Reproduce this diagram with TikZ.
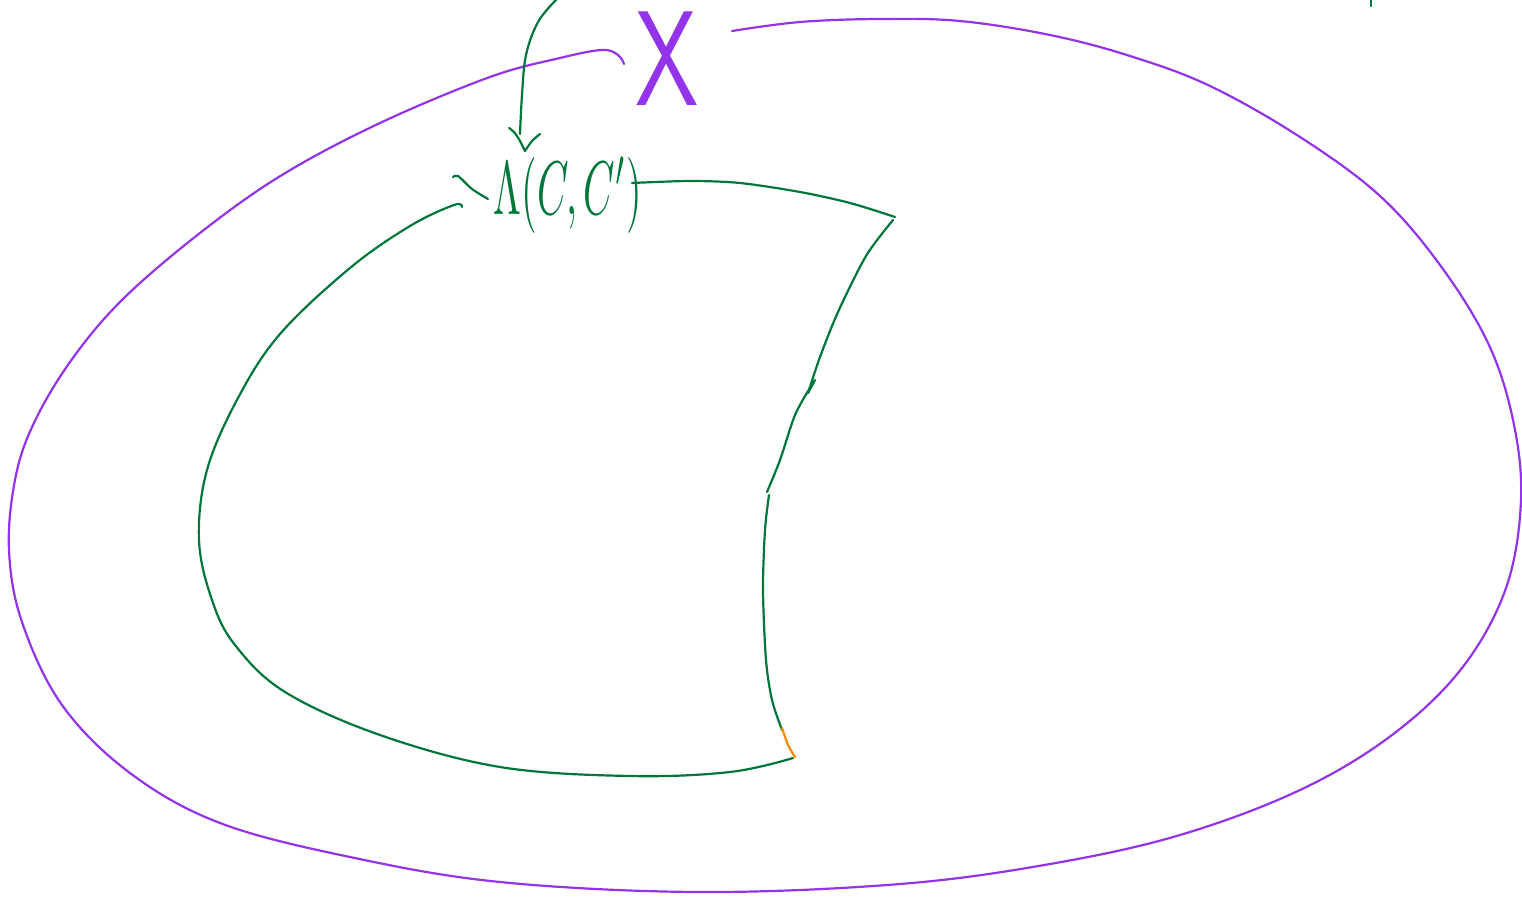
\documentclass[tikz,border=0pt]{standalone}
\usepackage{fontspec}
\usetikzlibrary{calc}
\definecolor{pur}{HTML}{9333EA}
\definecolor{grn}{HTML}{00773A}
\definecolor{org}{HTML}{F08A00}
\tikzset{
  pstroke/.style={draw=pur,line width=2.2pt,line cap=round,line join=round},
  gstroke/.style={draw=grn,line width=2.2pt,line cap=round,line join=round},
  ostroke/.style={draw=org,line width=2.2pt,line cap=round},
}
\begin{document}
\begin{tikzpicture}[x=1pt,y=-1pt]
\useasboundingbox (0,0) rectangle (1522,899);
% outer purple loop
\draw[pstroke] plot[smooth,tension=0.6] coordinates {(732,31) (800,22) (880,19) (960,21) (1050,35) (1130,56) (1210,86) (1300,137) (1380,196) (1440,265) (1488,343) (1513,420) (1521,500) (1506,588) (1462,668) (1392,735) (1300,790) (1180,835) (1050,864) (900,884) (700,892) (500,882) (350,857) (220,823) (130,773) (62,705) (22,622) (9,550) (15,480) (33,425) (70,362) (122,300) (200,233) (282,175) (380,123) (490,77) (560,58) (602,50) (618,55) (624,64)};
% X label
\node[text=pur,inner sep=0pt] (X) at (667,59) {\scalebox{9.5}[13.5]{\sffamily X}};
% inner green loop
\draw[gstroke] plot[smooth,tension=0.5] coordinates {(632,183) (690,181) (740,183) (800,192) (850,203) (895,217)};
\draw[gstroke] plot[smooth,tension=0.5] coordinates {(893,220) (866,256) (838,312) (820,357) (808,393)};
\draw[gstroke] (808,393) -- (815,380);
\draw[gstroke] plot[smooth,tension=0.5] coordinates {(810,388) (795,415) (780,460) (767,492)};
\draw[gstroke] plot[smooth,tension=0.5] coordinates {(769,495) (765,530) (763,590) (766,660) (772,700) (782,730)};
\draw[ostroke] plot[smooth,tension=0.5] coordinates {(782,728) (788,745) (795,757)};
\draw[gstroke] plot[smooth,tension=0.6] coordinates {(793,758) (730,772) (630,776) (500,767) (380,735) (285,692) (235,645) (212,600) (199,540) (207,470) (238,398) (280,334) (350,268) (410,226) (454,205) (462,207)};
% label
\node[text=grn,inner sep=0pt,anchor=center] (lbl) at (568,195) {\scalebox{4.0}[7.6]{$\Lambda(C,C')$}};
\draw[gstroke] plot[smooth,tension=0.5] coordinates {(453,177) (458,176) (472,189) (488,199)};
% arrow into label
\coordinate (top) at (556,0);
\draw[gstroke] plot[smooth,tension=0.6] coordinates {(top) (538,22) (526,55) (522,95) (520,134)};
\draw[gstroke] plot[smooth,tension=0.5] coordinates {(509,128) (514,132) (520,141) (525,151)};
\draw[gstroke] plot[smooth,tension=0.5] coordinates {(540,134) (532,141) (525,151)};
% small mark top right
\coordinate (m1) at (1371,0);
\coordinate (m2) at (1371,6);
\draw[gstroke] (m1) -- (m2);
\end{tikzpicture}
\end{document}
